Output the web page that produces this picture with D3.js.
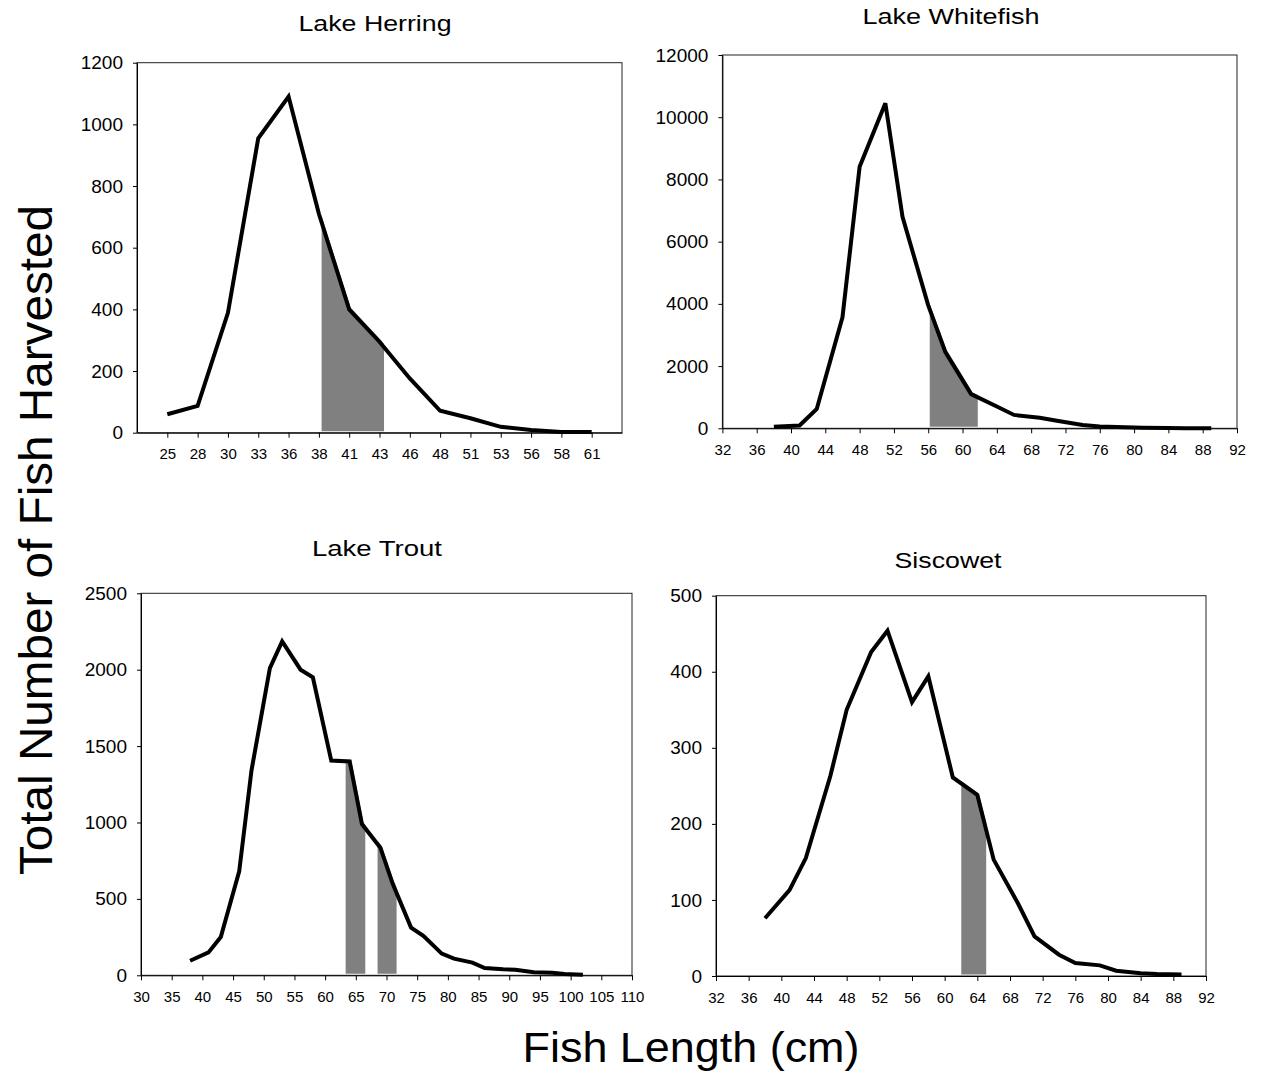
<!DOCTYPE html>
<html>
<head>
<meta charset="utf-8">
<script src="https://cdn.jsdelivr.net/npm/d3@7"></script>
<style>
  html, body { margin: 0; padding: 0; background: #fff; }
  svg { display: block; }
  text { font-family: "Liberation Sans", Arial, sans-serif; fill: #000; }
</style>
</head>
<body>
<svg id="chart" width="1262" height="1084"></svg>
<script>
// ---------------- DATA ----------------
// Lake Herring: category axis (inch classes, labelled in cm)
const herringLengths = ["25","28","30","33","36","38","41","43","46","48","51","53","56","58","61"];
const herringCounts  = [60, 87, 389, 955, 1090, 710, 400, 295, 176, 71, 47, 19, 9, 2, 2];
const herringShade   = [[5.04, 7.1]];          // in category-index units
const herringYTicks  = [0, 200, 400, 600, 800, 1000, 1200];

// Lake Whitefish
const whitefishLengths = [38, 41, 43, 46, 48, 51, 53, 56, 58, 61, 64, 66, 69, 71, 74, 76, 79, 81, 84, 86, 89];
const whitefishCounts  = [50, 90, 620, 3570, 8410, 10450, 6800, 3950, 2450, 1100, 700, 430, 340, 245, 105, 55, 30, 15, 10, 5, 5];
const whitefishShade   = [[56, 61.6]];
const whitefishXTicks  = [32, 36, 40, 44, 48, 52, 56, 60, 64, 68, 72, 76, 80, 84, 88, 92];
const whitefishYTicks  = [0, 2000, 4000, 6000, 8000, 10000, 12000];

// Lake Trout
const troutLengths = [38, 41, 43, 46, 48, 51, 53, 56, 58, 61, 64, 66, 69, 71, 74, 76, 79, 81, 84, 86, 89, 91, 94, 97, 99, 102];
const troutCounts  = [95, 150, 250, 680, 1340, 2010, 2185, 2000, 1950, 1405, 1400, 990, 835, 600, 312, 258, 142, 109, 83, 48, 39, 37, 20, 17, 9, 4];
const troutShade   = [[63.1, 66.3], [68.3, 71.4]];
const troutXTicks  = [30, 35, 40, 45, 50, 55, 60, 65, 70, 75, 80, 85, 90, 95, 100, 105, 110];
const troutYTicks  = [0, 500, 1000, 1500, 2000, 2500];

// Siscowet
const siscowetLengths = [38, 41, 43, 46, 48, 51, 53, 56, 58, 61, 64, 66, 69, 71, 74, 76, 79, 81, 84, 86, 89];
const siscowetCounts  = [76, 113, 155, 263, 350, 426, 454, 360, 394, 261, 238, 153, 95, 52, 28, 17, 14, 7, 3.5, 2.5, 2];
const siscowetShade   = [[61.85, 64.9]];
const siscowetXTicks  = [32, 36, 40, 44, 48, 52, 56, 60, 64, 68, 72, 76, 80, 84, 88, 92];
const siscowetYTicks  = [0, 100, 200, 300, 400, 500];

const yAxisTitle = "Total Number of Fish Harvested";
const xAxisTitle = "Fish Length (cm)";

// ---------------- LAYOUT ----------------
const panels = [
  { title: "Lake Herring", xs: herringLengths.map((d, i) => i), ys: herringCounts,
    shade: herringShade, yTicks: herringYTicks, xDomain: [-1, herringLengths.length],
    xTicks: herringLengths.map((d, i) => i), xFmt: i => herringLengths[i],
    box: { l: 137, t: 62.7, r: 622, b: 432.7 }, tx: 375, ty: 31, tlen: 153 },
  { title: "Lake Whitefish", xs: whitefishLengths, ys: whitefishCounts,
    shade: whitefishShade, yTicks: whitefishYTicks, xDomain: [32, 92], xTicks: whitefishXTicks, xFmt: d => d,
    box: { l: 722.4, t: 55, r: 1237, b: 428.3 }, tx: 951, ty: 24, tlen: 177 },
  { title: "Lake Trout", xs: troutLengths, ys: troutCounts,
    shade: troutShade, yTicks: troutYTicks, xDomain: [30, 110], xTicks: troutXTicks, xFmt: d => d,
    box: { l: 141, t: 593.3, r: 632, b: 975.3 }, tx: 377, ty: 556, tlen: 130 },
  { title: "Siscowet", xs: siscowetLengths, ys: siscowetCounts,
    shade: siscowetShade, yTicks: siscowetYTicks, xDomain: [32, 92], xTicks: siscowetXTicks, xFmt: d => d,
    box: { l: 716, t: 595.7, r: 1206, b: 976 }, tx: 948, ty: 568, tlen: 107 }
];

const svg = d3.select("#chart");

function interp(xs, ys, x) {
  if (x <= xs[0]) return ys[0];
  for (let i = 1; i < xs.length; i++) {
    if (x <= xs[i]) {
      const f = (x - xs[i - 1]) / (xs[i] - xs[i - 1]);
      return ys[i - 1] + f * (ys[i] - ys[i - 1]);
    }
  }
  return ys[ys.length - 1];
}

panels.forEach(p => {
  const g = svg.append("g");
  const x = d3.scaleLinear().domain(p.xDomain).range([p.box.l, p.box.r]);
  const y = d3.scaleLinear().domain([0, p.yTicks[p.yTicks.length - 1]]).range([p.box.b, p.box.t]);

  // frame
  g.append("rect")
    .attr("x", p.box.l).attr("y", p.box.t)
    .attr("width", p.box.r - p.box.l).attr("height", p.box.b - p.box.t)
    .attr("fill", "none").attr("stroke", "#222").attr("stroke-width", 1);

  // shaded regions
  p.shade.forEach(([a, b]) => {
    const pts = [a, ...p.xs.filter(v => v > a && v < b), b].map(v => [v, interp(p.xs, p.ys, v)]);
    const area = d3.area().x(d => x(d[0])).y0(y(0)).y1(d => y(d[1]));
    g.append("path").attr("d", area(pts))
      .attr("fill", "#808080")
      .attr("transform", "translate(1.5,-1.5)");
  });

  // axes
  const ya = d3.axisLeft(y).tickValues(p.yTicks).tickSize(4).tickSizeOuter(0).tickPadding(10)
    .tickFormat(d3.format("d"));
  const yg = g.append("g").attr("transform", `translate(${p.box.l},0)`).call(ya);
  yg.selectAll("text").attr("font-size", 19).attr("font-family", "Liberation Sans, Arial, sans-serif");

  const xa = d3.axisBottom(x).tickValues(p.xTicks).tickSize(5).tickSizeOuter(0).tickPadding(11)
    .tickFormat(p.xFmt);
  const xg = g.append("g").attr("transform", `translate(0,${p.box.b})`).call(xa);
  xg.selectAll("text").attr("font-size", 15).attr("font-family", "Liberation Sans, Arial, sans-serif");
  [yg, xg].forEach(a => a.selectAll("path,line").attr("stroke", "#000").attr("stroke-width", 1));

  // data line
  const line = d3.line().x((d, i) => x(p.xs[i])).y(d => y(d));
  g.append("path").attr("d", line(p.ys))
    .attr("fill", "none").attr("stroke", "#000").attr("stroke-width", 4)
    .attr("stroke-linejoin", "miter").attr("stroke-miterlimit", 3);

  // title
  g.append("text").attr("x", p.tx).attr("y", p.ty).attr("text-anchor", "middle")
    .attr("font-size", 22).attr("textLength", p.tlen).attr("lengthAdjust", "spacingAndGlyphs")
    .text(p.title);
});

// axis titles
svg.append("text")
  .attr("transform", "translate(52,540) rotate(-90)")
  .attr("text-anchor", "middle").attr("font-size", 46)
  .attr("textLength", 670).attr("lengthAdjust", "spacingAndGlyphs")
  .text(yAxisTitle);

svg.append("text")
  .attr("x", 691).attr("y", 1062).attr("text-anchor", "middle")
  .attr("font-size", 43).attr("textLength", 337).attr("lengthAdjust", "spacingAndGlyphs")
  .text(xAxisTitle);
</script>
</body>
</html>
